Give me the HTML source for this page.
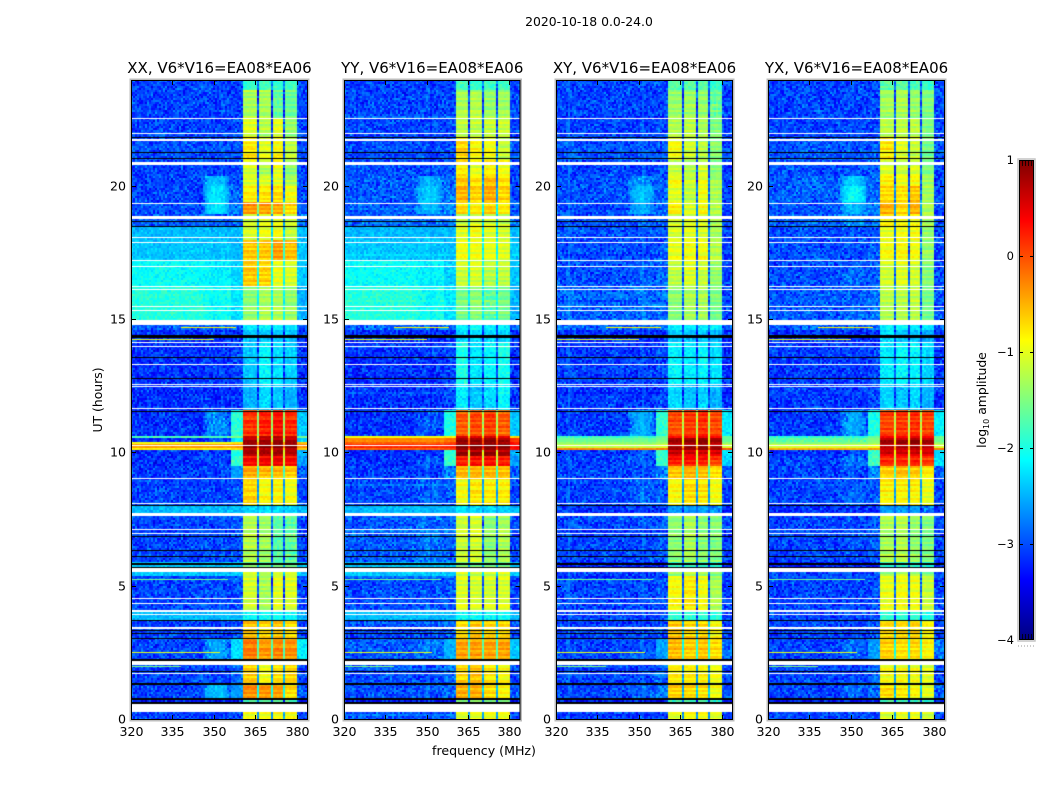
<!DOCTYPE html>
<html lang="en">
<head>
<meta charset="utf-8">
<title>2020-10-18 0.0-24.0</title>
<style>
html,body{margin:0;padding:0;background:#fff;}
#stage{position:relative;width:1050px;height:800px;overflow:hidden;font-family:"DejaVu Sans","Liberation Sans",sans-serif;}
#stage canvas{position:absolute;display:block;}
#overlay{position:absolute;left:0;top:0;}
#overlay text{font-family:"DejaVu Sans","Liberation Sans",sans-serif;fill:#000;}
</style>
</head>
<body>
<div id="stage">
<svg id="overlay" width="1050" height="800">
  <defs><linearGradient id="cbar-grad" x1="0" y1="1" x2="0" y2="0"></linearGradient></defs>
  <text x="589" y="26" text-anchor="middle" font-size="12.4">2020-10-18 0.0-24.0</text>
  <text x="102" y="400" text-anchor="middle" font-size="12.4" transform="rotate(-90 102 400)">UT (hours)</text>
  <text x="484" y="755" text-anchor="middle" font-size="12.6">frequency (MHz)</text>
  <text x="986" y="400" text-anchor="middle" font-size="12.4" transform="rotate(-90 986 400)">log<tspan font-size="8" dy="3">10</tspan><tspan dy="-3"> amplitude</tspan></text>
  <g id="axes-layer"></g>
  <g id="cbar-layer"></g>
</svg>
</div>
<script>
// ---------- data (log10 amplitude) ----------
const utEdges = [24,23.6,22.6,21.8,21,20.4,20,19.45,19,18.55,18,17.25,16.3,15,14.6,14.2,12.6,11.6,10.68,10.58,10.45,10.35,10.2,10.1,9.9,9.5,9.05,8,7.65,5.9,5.55,5.38,4.1,3.72,3.08,2.22,1.35,0.8,0.6,0];
const freqEdges = [320,346,356,360.5,365.3,366,370.3,371,374.9,375.6,380,384.2];
const freqTicks = [320,335,350,365,380];
const utTicks = [0,5,10,15,20];
const panelTitles = ["XX, V6*V16=EA08*EA06","YY, V6*V16=EA08*EA06","XY, V6*V16=EA08*EA06","YX, V6*V16=EA08*EA06"];
const colorbarTicks = [1,0,-1,-2,-3,-4];
// columns: low, hump, shoulder, band1, band2, band3, band4, gap, after
const levelsXX = [
[-3.0,-3.0,-3.0,-1.9,-1.8,-1.9,-1.8,-2.8,-3.0],
[-3.0,-3.0,-3.0,-1.3,-1.3,-1.65,-1.6,-3.1,-3.0],
[-3.0,-3.0,-3.0,-1.05,-1.25,-1.0,-1.4,-3.0,-3.0],
[-2.95,-2.95,-2.95,-0.8,-1.05,-0.9,-1.2,-2.9,-2.95],
[-3.0,-3.0,-2.95,-1.1,-1.3,-1.0,-1.45,-3.0,-3.0],
[-3.0,-2.4,-2.9,-1.05,-1.05,-1.0,-1.25,-2.9,-3.0],
[-3.0,-2.2,-2.85,-0.85,-0.8,-0.75,-0.95,-2.8,-3.0],
[-2.95,-2.2,-2.8,-0.35,-0.4,-0.45,-0.7,-1.5,-2.9],
[-2.9,-2.9,-2.8,-1.15,-1.05,-1.0,-1.15,-2.6,-2.8],
[-2.45,-2.45,-2.45,-1.1,-1.0,-0.95,-1.2,-2.3,-2.45],
[-2.4,-2.4,-2.45,-0.6,-0.6,-0.4,-0.55,-1.9,-2.4],
[-2.1,-2.2,-2.35,-0.65,-0.7,-1.0,-1.1,-2.0,-2.4],
[-1.95,-2.1,-2.25,-1.45,-1.3,-1.3,-1.4,-2.1,-2.5],
[-2.85,-2.85,-2.8,-2.2,-2.2,-2.2,-2.2,-2.8,-2.9],
[-3.1,-3.1,-3.1,-2.4,-2.4,-2.4,-2.4,-3.1,-3.1],
[-3.1,-3.05,-3.0,-2.4,-2.15,-2.25,-2.35,-3.0,-3.1],
[-3.1,-3.1,-3.05,-2.5,-2.3,-2.4,-2.5,-3.0,-3.1],
[-3.1,-2.6,-1.95,0.1,0.2,0.3,0.15,-1.4,-2.4],
[-1.75,-1.75,-1.5,0.6,0.65,0.7,0.6,-1.0,-1.6],
[-3.1,-2.9,-2.2,0.8,0.8,0.85,0.75,-1.2,-2.3],
[-0.95,-0.95,-0.8,0.85,0.85,0.9,0.85,-0.5,-0.6],
[-0.4,-0.4,-0.35,0.9,0.9,0.95,0.9,-0.3,-0.3],
[-0.8,-0.8,-0.7,0.85,0.85,0.9,0.85,-0.5,-0.6],
[-3.1,-3.0,-2.0,0.75,0.75,0.8,0.7,-1.1,-2.5],
[-3.1,-3.0,-1.85,0.3,0.35,0.4,0.3,-1.2,-2.6],
[-3.05,-3.0,-2.6,-0.45,-0.55,-0.55,-0.6,-1.8,-2.9],
[-3.0,-3.0,-2.95,-0.7,-0.9,-0.85,-0.95,-2.6,-3.0],
[-2.45,-2.45,-2.45,-2.3,-2.3,-2.3,-2.3,-2.5,-2.45],
[-3.0,-2.95,-2.9,-1.25,-1.35,-1.7,-1.65,-2.9,-3.0],
[-2.4,-2.4,-2.4,-1.5,-1.6,-1.6,-1.6,-2.5,-2.4],
[-2.4,-2.4,-2.4,-1.2,-1.4,-1.2,-1.2,-2.4,-2.4],
[-3.0,-2.95,-2.95,-1.1,-1.3,-1.0,-1.05,-3.0,-3.0],
[-2.45,-2.45,-2.45,-2.1,-2.1,-2.1,-2.1,-2.5,-2.5],
[-3.0,-3.0,-2.95,-0.6,-0.7,-0.6,-0.75,-2.4,-3.0],
[-3.0,-2.55,-2.3,-0.25,-0.4,-0.3,-0.35,-1.7,-2.2],
[-3.0,-3.0,-2.8,-0.65,-0.95,-0.75,-0.7,-2.6,-3.0],
[-3.0,-2.4,-2.6,-0.35,-0.4,-0.45,-0.75,-2.0,-2.9],
[-3.2,-3.2,-3.2,-1.7,-1.7,-1.7,-1.7,-3.1,-3.2],
[-3.0,-3.0,-3.0,-0.95,-0.95,-0.9,-0.9,-2.6,-3.0]
];
const levelsYY = [
[-3.0,-3.0,-3.0,-1.8,-1.9,-1.8,-1.8,-2.8,-3.0],
[-3.0,-3.0,-3.0,-1.3,-1.25,-1.4,-1.35,-3.0,-3.0],
[-3.0,-3.0,-3.0,-1.2,-1.2,-1.15,-1.15,-3.0,-3.0],
[-2.95,-2.95,-2.95,-0.7,-0.9,-0.95,-1.15,-2.8,-2.95],
[-2.95,-3.0,-2.95,-0.8,-1.0,-0.85,-0.95,-2.9,-3.0],
[-2.9,-2.5,-2.8,-0.6,-0.75,-0.55,-0.75,-2.7,-3.0],
[-2.9,-2.35,-2.75,-0.55,-0.7,-0.5,-0.7,-2.6,-3.0],
[-2.9,-2.45,-2.7,-0.7,-0.8,-0.65,-0.8,-2.2,-2.9],
[-2.8,-2.8,-2.75,-1.15,-1.05,-1.05,-1.15,-2.4,-2.8],
[-2.45,-2.45,-2.45,-1.05,-0.95,-1.05,-1.1,-2.2,-2.45],
[-2.4,-2.4,-2.45,-0.95,-0.95,-1.0,-1.05,-2.1,-2.4],
[-2.1,-2.2,-2.35,-1.15,-1.1,-1.25,-1.2,-2.1,-2.4],
[-1.95,-2.1,-2.25,-1.55,-1.45,-1.65,-1.55,-2.2,-2.5],
[-2.85,-2.85,-2.8,-2.2,-2.1,-2.2,-2.2,-2.8,-2.9],
[-3.1,-3.1,-3.1,-2.3,-2.3,-2.3,-2.3,-3.1,-3.1],
[-3.1,-3.05,-3.0,-2.0,-2.25,-2.15,-2.0,-3.0,-3.1],
[-3.1,-3.1,-3.0,-2.2,-2.4,-2.3,-2.15,-3.0,-3.1],
[-3.1,-2.9,-2.0,-0.1,0.0,0.05,-0.1,-1.3,-2.4],
[-0.9,-0.9,-0.8,0.6,0.55,0.6,0.5,-0.6,-0.7],
[-0.3,-0.3,-0.2,0.85,0.85,0.9,0.8,-0.1,0.1],
[-0.1,-0.1,0.0,0.95,0.95,1.0,0.95,0.1,0.3],
[0.2,0.2,0.25,1.0,1.0,1.0,1.0,0.2,0.4],
[-0.1,-0.05,0.05,0.95,0.95,1.0,0.95,0.1,0.3],
[-3.1,-3.0,-1.9,0.8,0.8,0.85,0.75,-1.1,-2.5],
[-3.1,-2.9,-1.85,0.2,0.3,0.3,0.2,-1.2,-2.6],
[-3.05,-3.0,-2.7,-0.5,-0.5,-0.5,-0.55,-1.8,-2.9],
[-3.0,-2.85,-2.9,-0.95,-0.8,-0.85,-0.85,-2.6,-3.0],
[-2.45,-2.45,-2.45,-2.25,-2.3,-2.3,-2.3,-2.5,-2.45],
[-2.9,-2.75,-2.85,-1.15,-1.1,-1.45,-1.3,-2.9,-3.0],
[-2.4,-2.4,-2.4,-1.5,-1.55,-1.55,-1.55,-2.5,-2.4],
[-2.4,-2.4,-2.4,-1.1,-1.2,-1.15,-1.1,-2.4,-2.4],
[-2.95,-2.9,-2.9,-1.05,-1.1,-1.1,-1.05,-3.0,-3.0],
[-2.45,-2.45,-2.45,-2.1,-2.1,-2.1,-2.1,-2.5,-2.5],
[-3.0,-2.95,-2.9,-0.75,-0.6,-0.7,-0.7,-2.4,-3.0],
[-2.9,-2.75,-2.5,-0.45,-0.45,-0.45,-0.45,-1.7,-2.4],
[-2.95,-2.95,-2.8,-0.7,-0.6,-0.8,-0.9,-2.6,-3.0],
[-2.95,-2.9,-2.8,-0.5,-0.5,-0.75,-0.9,-2.4,-2.9],
[-3.2,-3.2,-3.2,-1.6,-1.5,-1.6,-1.6,-3.1,-3.2],
[-2.95,-2.95,-2.95,-1.05,-1.0,-0.95,-0.95,-2.6,-3.0]
];
const levelsXY = [
[-3.0,-3.0,-3.0,-1.7,-1.7,-1.7,-1.9,-2.8,-3.0],
[-3.0,-3.0,-3.0,-1.4,-1.35,-1.4,-1.65,-3.0,-3.0],
[-3.0,-3.0,-3.0,-1.25,-1.2,-1.3,-1.5,-3.0,-3.0],
[-2.95,-2.95,-2.95,-0.95,-1.15,-1.25,-1.5,-2.9,-2.95],
[-3.0,-3.0,-2.95,-1.15,-1.25,-1.1,-1.45,-3.0,-3.0],
[-2.95,-2.6,-2.9,-0.95,-1.15,-1.0,-1.35,-2.9,-3.0],
[-2.95,-2.4,-2.85,-1.05,-1.2,-0.95,-1.3,-2.8,-3.0],
[-2.95,-2.5,-2.85,-0.8,-1.05,-0.9,-1.25,-2.6,-3.0],
[-3.0,-2.9,-2.9,-1.15,-1.1,-1.1,-1.35,-2.8,-3.0],
[-2.95,-2.95,-2.95,-1.1,-1.05,-1.1,-1.35,-2.8,-3.0],
[-2.95,-2.95,-2.9,-1.0,-0.95,-0.95,-1.25,-2.8,-3.0],
[-2.95,-2.85,-2.85,-1.2,-1.05,-1.15,-1.4,-2.8,-3.0],
[-2.85,-2.8,-2.8,-1.45,-1.3,-1.3,-1.55,-2.8,-2.95],
[-2.85,-2.85,-2.8,-2.2,-2.2,-2.2,-2.2,-2.9,-2.9],
[-3.1,-3.1,-3.1,-2.4,-2.4,-2.4,-2.5,-3.1,-3.1],
[-3.05,-3.05,-3.0,-2.15,-2.2,-2.15,-2.3,-3.0,-3.1],
[-3.05,-3.05,-3.0,-2.3,-2.4,-2.35,-2.5,-3.0,-3.1],
[-3.05,-2.5,-1.9,0.0,0.1,0.15,0.0,-1.2,-2.2],
[-1.85,-1.85,-1.6,0.45,0.5,0.6,0.45,-1.0,-1.6],
[-1.6,-1.6,-1.5,0.8,0.85,0.9,0.75,-1.0,-1.6],
[-1.45,-1.45,-1.4,0.85,0.9,0.95,0.8,-0.9,-1.4],
[-1.2,-1.2,-1.1,0.65,0.75,0.8,0.65,-0.7,-1.1],
[-0.3,-0.3,-0.2,0.8,0.8,0.85,0.75,-0.2,0.0],
[-3.1,-2.95,-1.9,0.6,0.55,0.55,0.5,-1.0,-2.3],
[-3.0,-2.85,-1.85,0.25,0.3,0.25,0.05,-1.2,-2.3],
[-3.0,-2.95,-2.7,-0.6,-0.5,-0.55,-0.75,-1.8,-2.9],
[-3.0,-2.8,-2.9,-0.9,-0.75,-0.8,-0.95,-2.6,-3.0],
[-3.1,-3.1,-3.1,-2.6,-2.6,-2.6,-2.7,-3.1,-3.1],
[-3.0,-2.95,-2.9,-1.45,-1.3,-1.45,-1.5,-2.9,-3.0],
[-3.2,-3.2,-3.2,-1.9,-1.9,-1.9,-2.0,-3.0,-3.2],
[-3.0,-3.0,-3.0,-1.45,-1.25,-1.35,-1.55,-2.8,-3.0],
[-3.0,-3.0,-2.95,-0.9,-0.8,-0.95,-1.3,-2.9,-3.0],
[-3.0,-3.0,-3.0,-1.9,-1.9,-1.9,-2.0,-3.0,-3.0],
[-3.0,-3.0,-2.95,-0.6,-0.7,-0.7,-0.9,-2.4,-3.0],
[-3.0,-2.9,-2.6,-0.55,-0.65,-0.6,-0.75,-2.0,-2.8],
[-3.0,-3.0,-2.85,-0.85,-0.85,-0.9,-1.0,-2.6,-3.0],
[-3.0,-2.8,-2.75,-0.65,-0.7,-0.75,-0.95,-2.4,-2.9],
[-3.2,-3.2,-3.2,-1.8,-1.8,-1.8,-1.9,-3.1,-3.2],
[-3.0,-3.0,-3.0,-1.1,-0.95,-0.95,-1.1,-2.6,-3.0]
];
const levelsYX = [
[-3.0,-3.0,-3.0,-1.65,-1.7,-1.75,-1.85,-2.8,-3.0],
[-3.0,-3.0,-3.0,-1.35,-1.3,-1.4,-1.5,-3.0,-3.0],
[-3.0,-3.0,-3.0,-1.2,-1.2,-1.2,-1.5,-3.0,-3.0],
[-2.9,-2.9,-2.9,-0.8,-1.05,-1.15,-1.55,-2.9,-2.95],
[-2.95,-2.95,-2.9,-1.05,-1.15,-1.05,-1.5,-3.0,-3.0],
[-2.85,-2.35,-2.85,-0.85,-1.0,-0.9,-1.35,-2.9,-3.0],
[-2.85,-2.1,-2.8,-0.7,-0.75,-0.6,-1.3,-2.8,-3.0],
[-2.95,-2.45,-2.7,-0.5,-0.7,-0.5,-1.3,-2.6,-3.0],
[-2.85,-2.6,-2.75,-0.9,-0.95,-0.95,-1.35,-2.8,-2.95],
[-2.95,-2.95,-2.95,-1.0,-0.95,-0.9,-1.4,-2.8,-3.0],
[-2.95,-2.95,-2.9,-0.95,-0.9,-0.95,-1.4,-2.8,-3.0],
[-2.95,-2.85,-2.85,-1.1,-1.05,-1.1,-1.45,-2.8,-3.0],
[-2.9,-2.85,-2.8,-1.25,-1.25,-1.2,-1.55,-2.8,-2.95],
[-2.85,-2.85,-2.8,-2.2,-2.15,-2.2,-2.2,-2.9,-2.9],
[-3.1,-3.1,-3.1,-2.3,-2.4,-2.4,-2.5,-3.1,-3.1],
[-3.05,-3.05,-3.0,-2.2,-2.15,-2.15,-2.3,-3.0,-3.1],
[-3.05,-3.05,-3.0,-2.35,-2.4,-2.3,-2.5,-3.0,-3.1],
[-3.05,-2.55,-2.0,0.05,0.1,0.15,0.05,-1.2,-2.2],
[-1.9,-1.9,-1.6,0.45,0.45,0.55,0.45,-1.0,-1.6],
[-1.7,-1.7,-1.5,0.75,0.75,0.85,0.75,-1.0,-1.6],
[-1.5,-1.5,-1.4,0.8,0.8,0.9,0.8,-0.9,-1.4],
[-1.1,-1.1,-1.0,0.6,0.65,0.75,0.6,-0.7,-1.1],
[-0.5,-0.5,-0.4,0.75,0.75,0.8,0.7,-0.3,-0.2],
[-3.1,-2.95,-1.9,0.55,0.5,0.55,0.5,-1.0,-2.3],
[-3.0,-2.8,-1.8,0.2,0.2,0.25,0.1,-1.2,-2.3],
[-3.0,-2.95,-2.7,-0.65,-0.55,-0.6,-0.8,-1.8,-2.9],
[-3.0,-2.85,-2.9,-0.85,-0.85,-0.85,-1.0,-2.6,-3.0],
[-3.1,-3.1,-3.1,-2.6,-2.6,-2.6,-2.7,-3.1,-3.1],
[-3.0,-2.95,-2.9,-1.3,-1.25,-1.4,-1.5,-2.9,-3.0],
[-3.2,-3.2,-3.2,-1.9,-1.9,-1.9,-2.0,-3.0,-3.2],
[-3.0,-3.0,-3.0,-1.35,-1.2,-1.3,-1.5,-2.8,-3.0],
[-3.0,-3.0,-2.95,-1.0,-0.95,-0.95,-1.15,-2.9,-3.0],
[-3.0,-3.0,-3.0,-1.9,-1.9,-1.9,-2.0,-3.0,-3.0],
[-3.0,-3.0,-2.95,-0.75,-0.75,-0.7,-0.9,-2.4,-3.0],
[-3.0,-2.85,-2.6,-0.65,-0.75,-0.7,-0.85,-2.0,-2.8],
[-3.0,-3.0,-2.85,-0.95,-0.95,-0.95,-1.05,-2.6,-3.0],
[-3.0,-2.85,-2.8,-0.7,-0.8,-0.85,-1.0,-2.4,-2.9],
[-3.2,-3.2,-3.2,-1.8,-1.8,-1.8,-1.9,-3.1,-3.2],
[-3.0,-3.0,-3.0,-1.1,-1.0,-1.0,-1.15,-2.6,-3.0]
];
// masked (white) and near-zero (black) time intervals, UT hours [end, start]
const maskedUT = [[22.58,22.54],[22.03,21.99],[21.77,21.73],[20.94,20.80],[19.40,19.36],[18.91,18.77],[18.11,18.07],[17.93,17.89],[17.25,17.21],[17.04,17.0],[16.28,16.24],[16.18,16.14],[15.51,15.47],[15.39,15.35],[15.0,14.81],[14.19,14.15],[14.04,13.99],[13.36,13.32],[12.61,12.57],[12.52,12.48],[11.71,11.67],[10.30,10.27],[9.08,9.04],[8.15,8.11],[7.77,7.65],[7.17,7.13],[7.02,6.98],[5.69,5.54],[4.56,4.52],[4.40,4.36],[4.14,4.04],[3.96,3.92],[3.50,3.47],[3.44,3.41],[2.22,2.06],[1.76,1.72],[0.59,0.29]];
const zeroUT = [[21.86,21.82],[21.31,21.27],[21.07,21.03],[18.71,18.67],[18.54,18.5],[14.44,14.33],[13.62,13.58],[12.83,12.79],[11.6,11.56],[8.08,8.04],[6.89,6.85],[6.39,6.35],[6.14,6.1],[5.87,5.83],[5.72,5.68],[3.74,3.7],[3.36,3.32],[3.28,3.24],[3.08,3.04],[2.27,2.23],[1.83,1.79],[1.38,1.31],[0.82,0.75],[0.68,0.61]];
// narrow interference lines: UT, start MHz, end MHz, log10 amplitude
const rfiLines = [[14.73,338,358,-0.8],[14.29,320,350,-1.0],[5.28,320,355,-1.6],[2.55,320,352,-1.0],[2.02,320,338,-1.5]];
// measurement-noise texture (log10 offsets), estimated scatter of the background speckle
const speckleA = [0.12,-0.2,0.05,0.27,-0.09,-0.25,0.18,0.02,-0.15,0.22,-0.04,0.1,-0.28,0.15,0.07,-0.12,0.24,-0.18,-0.02,0.2,-0.23,0.09,0.03,-0.07,0.26,-0.16,0.13,-0.26,0.01,0.17,-0.11,0.08,-0.21,0.23,-0.05,0.14,-0.13];
const speckleB = [-0.1,0.08,0.16,-0.19,0.03,0.13,-0.06,-0.17,0.19,0.0,-0.14,0.11,0.06,-0.08,0.18,-0.2,0.04,-0.03,0.15,-0.12,0.09,-0.16,0.02];
// horizontal ripple seen across the sub-bands (log10 offsets)
const bandRipple = [0.1,-0.05,0.14,-0.12,0.03,0.16,-0.1,0.06,-0.15,0.09,0.0,-0.08,0.12,-0.14,0.05,0.1,-0.06,-0.12,0.15];

// ---------- layout and scales ----------
const panelLefts = [131,344,556,768];
const panelRights = [308,520.5,733,945];
const plotTop = 80, plotBottom = 720;
const freqMin = 320, freqMax = 384;
const utMax = 24;
const colorMin = -4, colorMax = 1;
const panelLevels = [levelsXX,levelsYY,levelsXY,levelsYX];
const panelNames = ["xx","yy","xy","yx"];
const svgNS = "http://www.w3.org/2000/svg";
const stage = document.getElementById("stage");
const axesLayer = document.getElementById("axes-layer");
const cbarLayer = document.getElementById("cbar-layer");

function yScale(ut){ return plotBottom - (ut/utMax)*(plotBottom-plotTop); }
function xScale(panel,f){ return panelLefts[panel] + (f-freqMin)/(freqMax-freqMin)*(panelRights[panel]-panelLefts[panel]); }
function clip(v){ return Math.max(0,Math.min(1,v)); }
function jet(v){
  const n = clip((v-colorMin)/(colorMax-colorMin));
  const r = clip(Math.min(4*n-1.5,-4*n+4.5));
  const g = clip(Math.min(4*n-0.5,-4*n+3.5));
  const b = clip(Math.min(4*n+0.5,-4*n+2.5));
  return "rgb("+Math.round(r*255)+","+Math.round(g*255)+","+Math.round(b*255)+")";
}
function rowIndex(ut){
  for(let i=0;i<utEdges.length-1;i++){ if(ut<=utEdges[i] && ut>utEdges[i+1]) return i; }
  return utEdges.length-2;
}
function columnValue(row,f){
  // maps a frequency onto the column classes of a level row
  if(f<freqEdges[1]) return row[0];
  if(f<freqEdges[2]){
    const w = Math.sin(Math.PI*(f-freqEdges[1])/(freqEdges[2]-freqEdges[1]));
    return row[0] + (row[1]-row[0])*Math.sqrt(w);
  }
  if(f<freqEdges[3]) return row[2];
  if(f<freqEdges[4]) return row[3];
  if(f<freqEdges[5]) return row[7];
  if(f<freqEdges[6]) return row[4];
  if(f<freqEdges[7]) return row[7];
  if(f<freqEdges[8]) return row[5];
  if(f<freqEdges[9]) return row[7];
  if(f<freqEdges[10]) return row[6];
  return row[8];
}
function drawPanel(panel){
  const left = panelLefts[panel], right = panelRights[panel];
  const w = Math.round(right-left), h = plotBottom-plotTop;
  const canvas = document.createElement("canvas");
  
  
  canvas.width = w; canvas.height = h;
  canvas.style.left = left+"px"; canvas.style.top = plotTop+"px";
  stage.insertBefore(canvas, document.getElementById("overlay"));
  const ctx = canvas.getContext("2d");
  const levels = panelLevels[panel];
  const cols = Math.ceil(w/2), rows = Math.ceil(h/2);
  for(let j=0;j<rows;j++){
    const yPx = plotTop + j*2;
    const ut = (plotBottom-yPx-1)/(plotBottom-plotTop)*utMax;
    const row = levels[rowIndex(ut)];
    const ripple = bandRipple[(j+panel*3) % bandRipple.length];
    for(let i=0;i<cols;i++){
      const xPx = left + i*2;
      const f = freqMin + (xPx+1-left)/(right-left)*(freqMax-freqMin);
      const base = columnValue(row,f);
      const idxA = (i*i*3 + j*7 + i*j*5 + panel*11) % speckleA.length;
      const idxB = (i*5 + j*j*3 + i*j + panel*2) % speckleB.length;
      const inBand = f>=freqEdges[3] && f<freqEdges[10];
      const scale = base < -2.6 ? 1.0 : (base < -1.6 ? 0.5 : 0.22);
      const rippleTerm = (inBand && base > -1.7) ? ripple : 0;
      const bias = base < -2.6 ? -0.05 : 0;
      ctx.fillStyle = jet(base + bias + rippleTerm + (speckleA[idxA]+speckleB[idxB])*scale);
      ctx.fillRect(i*2, j*2, 2, 2);
    }
  }
  rfiLines.forEach(function(r){
    const x0 = Math.round(xScale(panel,r[1])-left), x1 = Math.round(xScale(panel,r[2])-left);
    ctx.fillStyle = jet(r[3]);
    ctx.fillRect(x0, Math.round(yScale(r[0])-plotTop), x1-x0, 1);
  });
  ctx.fillStyle = "#000";
  zeroUT.forEach(function(b){
    const y0 = Math.round(yScale(b[0])-plotTop), y1 = Math.round(yScale(b[1])-plotTop);
    ctx.fillRect(0,y0,w,Math.max(1,y1-y0));
  });
  ctx.fillStyle = "#fff";
  maskedUT.forEach(function(b){
    const y0 = Math.round(yScale(b[0])-plotTop), y1 = Math.round(yScale(b[1])-plotTop);
    ctx.fillRect(0,y0,w,Math.max(1,y1-y0));
  });
}
function addLine(parent,x1,y1,x2,y2,color,width){
  const l = document.createElementNS(svgNS,"line");
  l.setAttribute("x1",x1); l.setAttribute("y1",y1);
  l.setAttribute("x2",x2); l.setAttribute("y2",y2);
  l.setAttribute("stroke",color); l.setAttribute("stroke-width",width);
  
  
  parent.appendChild(l);
}
function addText(parent,x,y,str,anchor,size){
  const t = document.createElementNS(svgNS,"text");
  t.setAttribute("x",x); t.setAttribute("y",y);
  t.setAttribute("text-anchor",anchor); t.setAttribute("font-size",size);
  
  
  t.textContent = str;
  parent.appendChild(t);
  return t;
}
function drawAxes(panel){
  const left = panelLefts[panel], right = panelRights[panel];
  const g = document.createElementNS(svgNS,"g");
  
  
  axesLayer.appendChild(g);
  const halo = document.createElementNS(svgNS,"rect");
  halo.setAttribute("x",left-0.5); halo.setAttribute("y",plotTop-0.5);
  halo.setAttribute("width",right-left+1); halo.setAttribute("height",plotBottom-plotTop+1);
  halo.setAttribute("fill","none"); halo.setAttribute("stroke","#bdbdbd"); halo.setAttribute("stroke-width","2");
  
  
  g.appendChild(halo);
  const frame = document.createElementNS(svgNS,"rect");
  frame.setAttribute("x",left+0.5); frame.setAttribute("y",plotTop+0.5);
  frame.setAttribute("width",right-left-1); frame.setAttribute("height",plotBottom-plotTop-1);
  frame.setAttribute("fill","none"); frame.setAttribute("stroke","#000"); frame.setAttribute("stroke-width","1");
  
  
  g.appendChild(frame);
  freqTicks.forEach(function(f){
    const x = Math.round(xScale(panel,f))+0.5;
    addLine(g,x,plotBottom,x,plotBottom-5,"#000",1);
    addLine(g,x,plotTop,x,plotTop+5,"#000",1);
    addText(g,x,736,String(f),"middle",12.6);
  });
  utTicks.forEach(function(u){
    const y = Math.round(yScale(u))-0.5;
    addLine(g,left,y,left+5,y,"#000",1);
    addLine(g,right,y,right-5,y,"#000",1);
    addText(g,left-5,y+4,String(u),"end",12.6);
  });
  const title = addText(g,(left+right)/2,73,panelTitles[panel],"middle",15);
  
}
function drawColorbar(){
  const x0 = 1019, x1 = 1034, y0 = 160, y1 = 640;
  const barY = function(v){ return y1 - (v-colorMin)/(colorMax-colorMin)*(y1-y0); };
  const grad = document.getElementById("cbar-grad");
  for(let i=0;i<=40;i++){
    const s = document.createElementNS(svgNS,"stop");
    s.setAttribute("offset",(i/40));
    s.setAttribute("stop-color",jet(colorMin+(colorMax-colorMin)*i/40));
    grad.appendChild(s);
  }
  const halo = document.createElementNS(svgNS,"rect");
  halo.setAttribute("x",x0-1); halo.setAttribute("y",y0-1);
  halo.setAttribute("width",x1-x0+2); halo.setAttribute("height",y1-y0+2);
  halo.setAttribute("fill","none"); halo.setAttribute("stroke","#c4c4c4"); halo.setAttribute("stroke-width","1.5");
  
  
  cbarLayer.appendChild(halo);
  const bar = document.createElementNS(svgNS,"rect");
  bar.setAttribute("x",x0+0.5); bar.setAttribute("y",y0+0.5);
  bar.setAttribute("width",x1-x0-1); bar.setAttribute("height",y1-y0-1);
  bar.setAttribute("fill","url(#cbar-grad)"); bar.setAttribute("stroke","#000"); bar.setAttribute("stroke-width","1");
  
  
  cbarLayer.appendChild(bar);
  colorbarTicks.forEach(function(v){
    const y = Math.round(barY(v))+0.5;
    if(v<colorMax && v>colorMin){
      addLine(cbarLayer,x0,y,x0+4,y,"#000",1);
      addLine(cbarLayer,x1,y,x1-4,y,"#000",1);
    }
    addText(cbarLayer,1014,Math.round(barY(v))+4,String(v).replace("-","\u2212"),"end",11.5);
  });
  for(let k=1;k<=4;k++){
    const x = x0 + k*3 + 0.5;
    addLine(cbarLayer,x,y0,x,y0+6,"#000",0.8);
    addLine(cbarLayer,x,y1,x,y1-6,"#000",0.8);
  }
  for(let k=0;k<6;k++){
    addLine(cbarLayer,1018+k*3,646,1019+k*3,646,"#9a9a9a",1);
  }
}
for(let p=0;p<4;p++){ drawPanel(p); drawAxes(p); }
drawColorbar();
</script>
</body>
</html>
